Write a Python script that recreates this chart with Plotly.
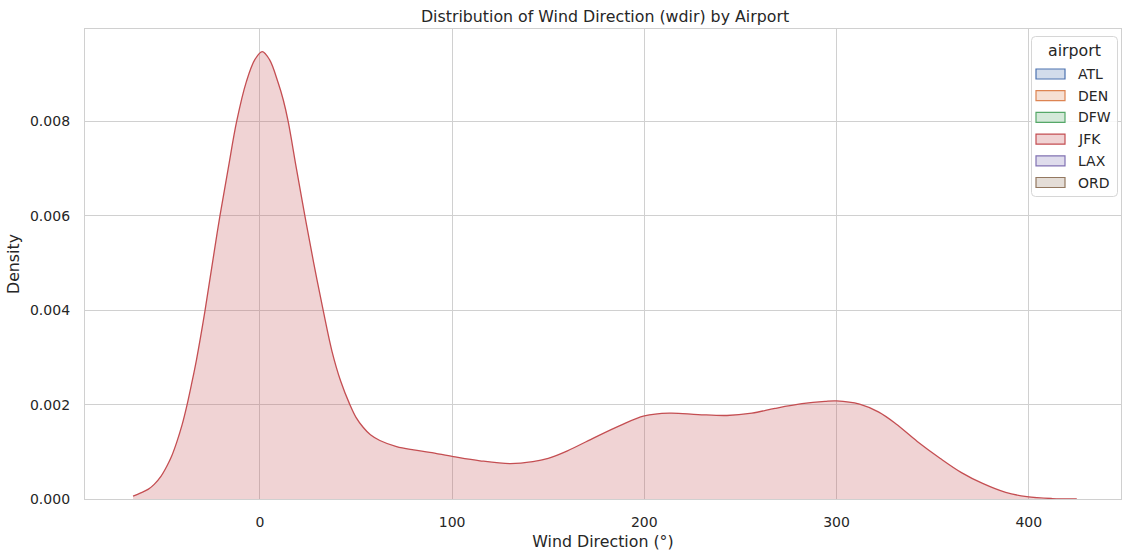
import plotly.graph_objects as go

# KDE of wind direction for JFK (density vs degrees)
wdir_deg = [-66, -62, -58, -55, -51.5, -48.5, -46, -43.3, -40.5, -38, -35.5, -33, -28.6,
            -24.7, -20.8, -16.5, -12.1, -7, -2.5, 1.2, 5, 9.5, 12.2, 14.7, 19, 23.4, 28,
            32.9, 37.5, 42, 46.8, 50, 53.7, 57.5, 62.4, 71.1, 80, 88.4, 100.6, 114.5, 130,
            142, 150, 160, 173, 187, 200, 213, 228, 243, 256, 268, 282, 294, 300, 312, 322,
            331, 342, 354, 365, 376, 388, 399, 412, 425]
jfk_density = [0.00006, 0.00013, 0.00021, 0.00031, 0.00048, 0.00069, 0.00090, 0.00120,
               0.00157, 0.00198, 0.00245, 0.00295, 0.00398, 0.00500, 0.00600, 0.00700,
               0.00800, 0.00885, 0.00932, 0.00948, 0.00931, 0.00882, 0.00845, 0.00800,
               0.00700, 0.00600, 0.00500, 0.00400, 0.00313, 0.00250, 0.00200, 0.00173,
               0.00152, 0.00136, 0.00124, 0.00111, 0.00104, 0.00099, 0.00090, 0.00081,
               0.00075, 0.00079, 0.00086, 0.00102, 0.00128, 0.00155, 0.00176, 0.00182,
               0.00179, 0.00177, 0.00182, 0.00192, 0.00202, 0.00207, 0.00208, 0.00201,
               0.00184, 0.00159, 0.00122, 0.00086, 0.00056, 0.00033, 0.00014, 0.00005,
               0.00001, 0.0]

airports = ["ATL", "DEN", "DFW", "JFK", "LAX", "ORD"]
airport_colors = ["#4C72B0", "#DD8452", "#55A868", "#C44E52", "#8172B3", "#937860"]

x_ticks = [0, 100, 200, 300, 400]
y_ticks = [0.000, 0.002, 0.004, 0.006, 0.008]

FONT = "DejaVu Sans"
TXT = "#262626"
GRID = "#d0d0d0"

W, H = 1122, 553
L, R, T, B = 85, 1, 29, 54
PW, PH = W - L - R, H - T - B


def rgba(hex_color, a):
    h = hex_color.lstrip("#")
    r, g, b = int(h[0:2], 16), int(h[2:4], 16), int(h[4:6], 16)
    return f"rgba({r},{g},{b},{a})"


def px_x(px):
    return (px - L) / PW


def px_y(py):
    return (H - B - py) / PH


fig = go.Figure()
fig.add_trace(go.Scatter(
    x=wdir_deg, y=jfk_density, mode="lines",
    line=dict(color=airport_colors[3], width=1.3, shape="spline", smoothing=1.0),
    fill="tozeroy", fillcolor=rgba(airport_colors[3], 0.25),
    showlegend=False, hoverinfo="x+y",
))

shapes = []
annotations = []

# legend frame with rounded corners
x0, x1, y0, y1 = 1031.5, 1117.5, 36.5, 196.5
rp = 4
def pt(px, py):
    return f"{px_x(px):.5f},{px_y(py):.5f}"
path = (f"M{pt(x0 + rp, y0)} L{pt(x1 - rp, y0)} Q{pt(x1, y0)} {pt(x1, y0 + rp)} "
        f"L{pt(x1, y1 - rp)} Q{pt(x1, y1)} {pt(x1 - rp, y1)} "
        f"L{pt(x0 + rp, y1)} Q{pt(x0, y1)} {pt(x0, y1 - rp)} "
        f"L{pt(x0, y0 + rp)} Q{pt(x0, y0)} {pt(x0 + rp, y0)} Z")
shapes.append(dict(type="path", xref="paper", yref="paper", path=path,
                   line=dict(color="#d6d6d6", width=1), fillcolor="rgba(255,255,255,0.85)",
                   layer="above"))
annotations.append(dict(x=px_x((x0 + x1) / 2), y=px_y(51), xref="paper", yref="paper",
                        text="airport", showarrow=False, xanchor="center", yanchor="middle",
                        font=dict(family=FONT, size=15.8, color=TXT)))
row0, row_gap = 74, 21.7
for i, (name, col) in enumerate(zip(airports, airport_colors)):
    cy = row0 + i * row_gap
    shapes.append(dict(type="rect", xref="paper", yref="paper",
                       x0=px_x(1036), x1=px_x(1065), y0=px_y(cy - 5), y1=px_y(cy + 5),
                       line=dict(color=col, width=1.2), fillcolor=rgba(col, 0.25),
                       layer="above"))
    annotations.append(dict(x=px_x(1076), y=px_y(cy), xref="paper", yref="paper",
                            text=name, showarrow=False, xanchor="left", yanchor="middle",
                            font=dict(family=FONT, size=14, color=TXT)))

fig.update_layout(
    width=W, height=H,
    margin=dict(l=L, r=R, t=T, b=B),
    paper_bgcolor="white", plot_bgcolor="white",
    font=dict(family=FONT, size=14, color=TXT),
    title=dict(text="Distribution of Wind Direction (wdir) by Airport",
               x=605 / W, xanchor="center",
               y=1 - 16 / H, yanchor="middle",
               font=dict(family=FONT, size=15.8, color=TXT)),
    shapes=shapes, annotations=annotations,
    showlegend=False,
)
fig.update_xaxes(
    range=[-91, 448], tickvals=x_ticks, ticktext=[str(v) for v in x_ticks],
    showgrid=True, gridcolor=GRID, gridwidth=1.3, zeroline=False,
    showline=True, mirror=True, linecolor=GRID, linewidth=1.3,
    ticks="", ticklabelstandoff=10,
    title=dict(text="Wind Direction (°)", font=dict(family=FONT, size=15.8, color=TXT), standoff=6),
    tickfont=dict(family=FONT, size=14, color=TXT),
)
fig.update_yaxes(
    range=[0, 0.00996], tickvals=y_ticks, ticktext=[f"{v:.3f}" for v in y_ticks],
    showgrid=True, gridcolor=GRID, gridwidth=1.3, zeroline=False,
    showline=True, mirror=True, linecolor=GRID, linewidth=1.3,
    ticks="", ticklabelstandoff=11,
    title=dict(text="Density", font=dict(family=FONT, size=15.8, color=TXT), standoff=6),
    tickfont=dict(family=FONT, size=14, color=TXT),
)

fig.write_html("out.html")
